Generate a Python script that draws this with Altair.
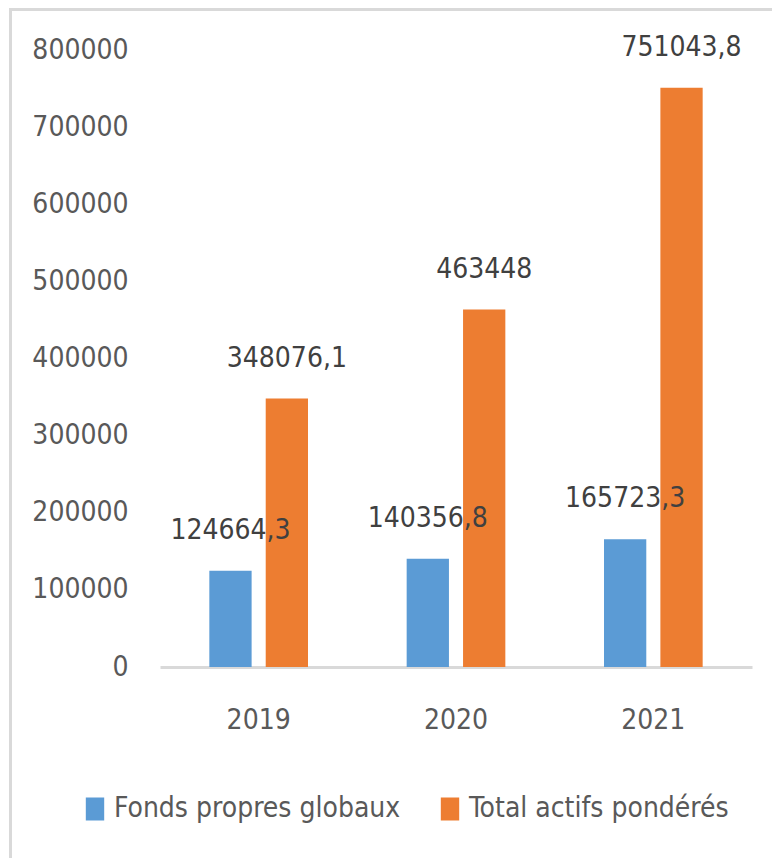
import altair as alt
import pandas as pd

years = ["2019", "2020", "2021"]
series = ["Fonds propres globaux", "Total actifs pondérés"]
fonds = [124664.3, 140356.8, 165723.3]
actifs = [348076.1, 463448.0, 751043.8]
colors = ["#5B9BD5", "#ED7D31"]

def fmt(v):
    return ("%.1f" % v).rstrip("0").rstrip(".").replace(".", ",")

rows = []
for i, y in enumerate(years):
    rows.append({"year": y, "serie": series[0], "value": fonds[i], "label": fmt(fonds[i])})
    rows.append({"year": y, "serie": series[1], "value": actifs[i], "label": fmt(actifs[i])})
df = pd.DataFrame(rows)

FONT = "DejaVu Sans Condensed, Roboto, sans-serif"
FS = 28

x = alt.X("year:N", title=None, sort=years,
          scale=alt.Scale(paddingInner=0.5, paddingOuter=0.25),
          axis=alt.Axis(labelAngle=0, labelFont=FONT, labelFontSize=FS, labelColor="#595959",
                        ticks=False, domainColor="#D9D9D9", domainWidth=3,
                        labelPadding=61, labelBaseline="alphabetic", grid=False))
xo = alt.XOffset("serie:N", sort=series, scale=alt.Scale(paddingInner=0.25))
y = alt.Y("value:Q", title=None,
          scale=alt.Scale(domain=[0, 800000], nice=False),
          axis=alt.Axis(values=[0, 100000, 200000, 300000, 400000, 500000, 600000, 700000, 800000],
                        format="d", labelFont=FONT, labelFontSize=FS, labelColor="#595959",
                        ticks=False, domain=False, grid=False, labelPadding=32))

bars = alt.Chart(df).mark_bar().encode(
    x=x, xOffset=xo, y=y,
    color=alt.Color("serie:N", sort=series, title=None,
                    scale=alt.Scale(domain=series, range=colors),
                    legend=alt.Legend(orient="none", direction="horizontal",
                                      legendX=-79, legendY=745, padding=0,
                                      symbolType="M-0.8,-1H0.8V1H-0.8Z", symbolSize=529,
                                      symbolStrokeWidth=0, symbolOpacity=1,
                                      labelFont=FONT, labelFontSize=FS, labelColor="#595959",
                                      labelOffset=5, columnPadding=35, labelLimit=400)),
)

labels = alt.Chart(df).mark_text(font=FONT, fontSize=FS, color="#404040",
                                 baseline="alphabetic", dy=-32).encode(
    x=alt.X("year:N", sort=years), xOffset=alt.XOffset("serie:N", sort=series),
    y="value:Q", text="label:N",
)

border_top = alt.Chart(pd.DataFrame({"a": [0]})).mark_rule(color="#D9D9D9", strokeWidth=3).encode(
    x=alt.value(-151), x2=alt.value(620), y=alt.value(-40.5))
border_left = alt.Chart(pd.DataFrame({"a": [0]})).mark_rule(color="#D9D9D9", strokeWidth=3).encode(
    x=alt.value(-149.5), y=alt.value(-42), y2=alt.value(816))

chart = alt.layer(border_top, border_left, bars, labels).properties(
    width=592, height=617,
    autosize=alt.AutoSizeParams(type="none"),
    padding={"left": 152, "top": 42, "right": 20, "bottom": 191},
).configure(background="white").configure_view(strokeWidth=0)

chart.save("out.html", embed_options={"renderer": "svg", "actions": False})
